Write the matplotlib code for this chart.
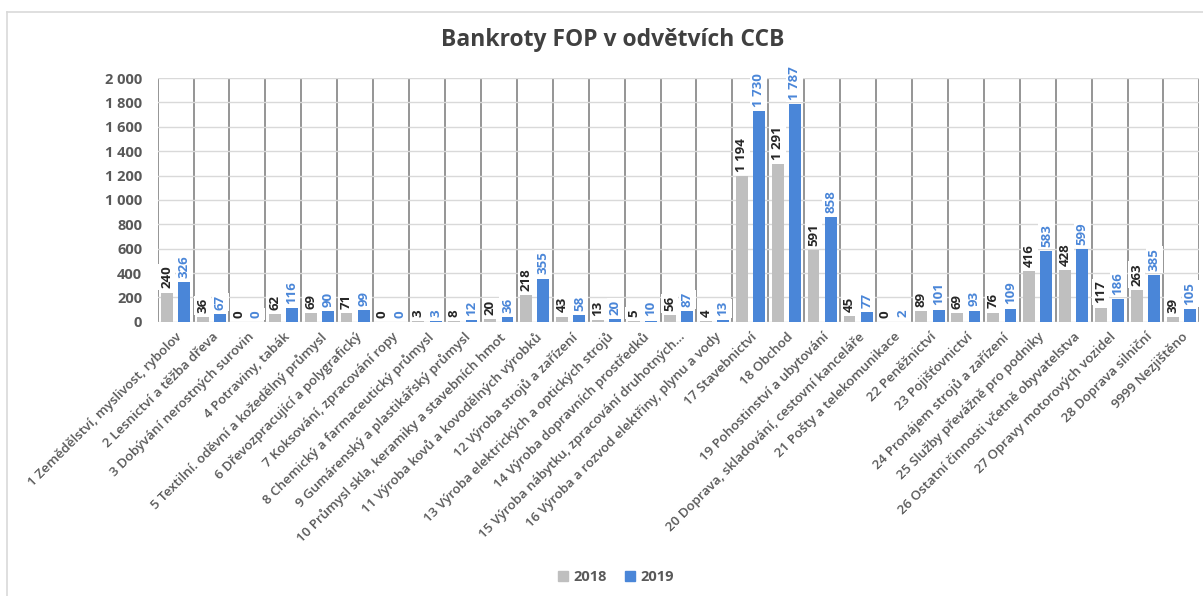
import numpy as np
import matplotlib
matplotlib.use("Agg")
import matplotlib.pyplot as plt
from matplotlib.lines import Line2D
from matplotlib.patches import Patch

# data
categories = [
    "1 Zemědělství, myslivost, rybolov",
    "2 Lesnictví a těžba dřeva",
    "3 Dobývání nerostných surovin",
    "4 Potraviny, tabák",
    "5 Textilní. oděvní a kožedělný průmysl",
    "6 Dřevozpracující a polygrafický",
    "7 Koksování, zpracování ropy",
    "8 Chemický a farmaceutický průmysl",
    "9 Gumárenský a plastikářský průmysl",
    "10 Průmysl skla, keramiky a stavebních hmot",
    "11 Výroba kovů a kovodělných výrobků",
    "12 Výroba strojů a zařízení",
    "13 Výroba elektrických a optických strojů",
    "14 Výroba dopravních prostředků",
    "15 Výroba nábytku, zpracování druhotných…",
    "16 Výroba a rozvod elektřiny, plynu a vody",
    "17 Stavebnictví",
    "18 Obchod",
    "19 Pohostinství a ubytování",
    "20 Doprava, skladování, cestovní kanceláře",
    "21 Pošty a telekomunikace",
    "22 Peněžnictví",
    "23 Pojišťovnictví",
    "24 Pronájem strojů a zařízení",
    "25 Služby převážně pro podniky",
    "26 Ostatní činnosti včetně obyvatelstva",
    "27 Opravy motorových vozidel",
    "28 Doprava silniční",
    "9999 Nezjištěno",
]
v2018 = [240, 36, 0, 62, 69, 71, 0, 3, 8, 20, 218, 43, 13, 5, 56, 4,
         1194, 1291, 591, 45, 0, 89, 69, 76, 416, 428, 117, 263, 39]
v2019 = [326, 67, 0, 116, 90, 99, 0, 3, 12, 36, 355, 58, 20, 10, 87, 13,
         1730, 1787, 858, 77, 2, 101, 93, 109, 583, 599, 186, 385, 105]
years = ["2018", "2019"]

plt.rcParams['font.family'] = ['Open Sans', 'DejaVu Sans']

c18 = "#BFBFBF"
c19 = "#4A86D8"
txt = "#595959"

def fmt(v):
    return "{:,}".format(int(v)).replace(",", " ")

fig = plt.figure(figsize=(12.03, 5.96), dpi=100)
ax = fig.add_axes([0.131, 0.460, 0.866, 0.409])

x = np.arange(len(categories))
w = 0.33
off = 0.24
b1 = ax.bar(x - off, v2018, w, color=c18, zorder=3)
b2 = ax.bar(x + off, v2019, w, color=c19, zorder=3)

ax.set_xlim(-0.5, len(categories) - 0.5)
ax.set_ylim(0, 2000)
ax.set_yticks(np.arange(0, 2001, 200))
ax.set_yticklabels([fmt(t) for t in np.arange(0, 2001, 200)],
                   fontsize=10.5, fontweight='bold', color=txt)
ax.yaxis.grid(True, color="#D9D9D9", lw=1, zorder=0)
for b in np.arange(-0.5, len(categories), 1.0):
    ax.axvline(b, color="#8C8C8C", lw=1.3, zorder=1)

ax.set_xticks(x)
ax.set_xticklabels(categories, rotation=45, ha='right', rotation_mode='anchor',
                   fontsize=9.5, fontweight='semibold', color=txt)
ax.tick_params(axis='both', length=0)
ax.tick_params(axis='x', pad=6)
ax.tick_params(axis='y', pad=11)
for s in ax.spines.values():
    s.set_visible(False)

for xi, v in zip(x, v2018):
    ax.annotate(fmt(v), (xi - off, v), xytext=(0, 3), textcoords='offset points',
                rotation=90, ha='center', va='bottom', fontsize=9.5, fontweight='bold',
                color="#262626", zorder=4,
                bbox=dict(boxstyle='square,pad=0.15', fc='white', ec='none'))
for xi, v in zip(x, v2019):
    ax.annotate(fmt(v), (xi + off, v), xytext=(0, 3), textcoords='offset points',
                rotation=90, ha='center', va='bottom', fontsize=9.5, fontweight='bold',
                color=c19, zorder=4,
                bbox=dict(boxstyle='square,pad=0.15', fc='white', ec='none'))

fig.text(0.509, 0.933, "Bankroty FOP v odvětvích CCB", ha='center', va='center',
         fontsize=16.5, fontweight='bold', color="#404040")

handles = [Patch(color=c18), Patch(color=c19)]
fig.legend(handles, years, loc='center', bbox_to_anchor=(0.512, 0.032), ncol=2,
           frameon=False, handlelength=0.7, handleheight=0.7, handletextpad=0.4,
           columnspacing=1.2, prop={'size': 10.5, 'weight': 'bold'}, labelcolor=txt)

# chart frame
fig.add_artist(Line2D([7 / 1203, 1], [1 - 12 / 596, 1 - 12 / 596], color="#D9D9D9", lw=1.2))
fig.add_artist(Line2D([7 / 1203, 7 / 1203], [0, 1 - 12 / 596], color="#D9D9D9", lw=1.2))

fig.savefig("out.png", dpi=100, facecolor='white')
